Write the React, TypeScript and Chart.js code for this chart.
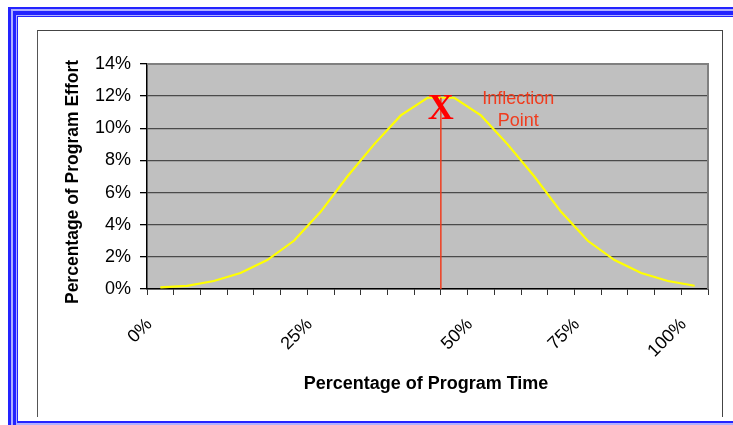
import React, { useEffect, useRef } from "react";
import { Chart, registerables } from "chart.js";

Chart.register(...registerables);

// ---- data ----
const categories = ["0%", "", "", "", "", "", "25%", "", "", "", "", "", "50%", "", "", "", "75%", "", "", "", "100%"];
const effort = [0.1, 0.2, 0.5, 1.0, 1.8, 3.0, 4.8, 7.0, 9.0, 10.8, 11.9, 11.9, 10.8, 9.0, 7.0, 4.8, 3.0, 1.8, 1.0, 0.5, 0.2];
const yTicks = [0, 2, 4, 6, 8, 10, 12, 14];
const yTitle = "Percentage of Program Effort";
const xTitle = "Percentage of Program Time";
const markerText = "X";
const noteLines = ["Inflection", "Point"];
const inflectionIndex = 10.5; // boundary between categories 10 and 11

const SANS = '"Liberation Sans", Arial, sans-serif';
const SERIF = '"Liberation Serif", "Times New Roman", serif';
const RED = "#f03c1e";

const decor = {
  id: "decor",
  beforeDraw(chart: any) {
    const { ctx, chartArea: a } = chart;
    ctx.save();
    ctx.fillStyle = "#c0c0c0";
    ctx.fillRect(a.left, a.top, a.right - a.left, a.bottom - a.top);
    ctx.restore();
  },
  beforeDatasetsDraw(chart: any) {
    const { ctx, chartArea: a } = chart;
    ctx.save();
    ctx.strokeStyle = "#808080";
    ctx.lineWidth = 2;
    ctx.beginPath();
    ctx.moveTo(a.left, a.top);
    ctx.lineTo(a.right, a.top);
    ctx.lineTo(a.right, a.bottom);
    ctx.stroke();
    ctx.restore();
  },
  afterDraw(chart: any) {
    const { ctx, chartArea: a, scales } = chart;
    const xs = scales.x;
    const ys = scales.y;
    const i0 = Math.floor(inflectionIndex);
    const p0 = xs.getPixelForValue(i0);
    const p1 = xs.getPixelForValue(i0 + 1);
    const lx = p0 + (p1 - p0) * (inflectionIndex - i0);
    const peak = Math.max(...effort);
    const py = ys.getPixelForValue(peak);

    ctx.save();
    // vertical line
    ctx.strokeStyle = RED;
    ctx.lineWidth = 1.5;
    ctx.beginPath();
    ctx.moveTo(lx, py);
    ctx.lineTo(lx, a.bottom);
    ctx.stroke();

    // X marker
    ctx.fillStyle = "#ff0000";
    ctx.font = `bold 36px ${SERIF}`;
    ctx.textAlign = "center";
    ctx.textBaseline = "alphabetic";
    ctx.fillText(markerText, lx, py + 21.5);

    // note
    ctx.fillStyle = RED;
    ctx.font = `18px ${SANS}`;
    ctx.fillText(noteLines[0], lx + 77.5, py + 6);
    ctx.fillText(noteLines[1], lx + 77.5, py + 28.4);

    // axis titles
    ctx.fillStyle = "#000";
    ctx.font = `bold 18px ${SANS}`;
    ctx.textAlign = "center";
    ctx.fillText(xTitle, (a.left + a.right) / 2 - 1.5, a.bottom + 100);

    ctx.translate(a.left - 74, (a.top + a.bottom) / 2 + 5.5);
    ctx.rotate(-Math.PI / 2);
    ctx.font = `bold 17.5px ${SANS}`;
    ctx.textBaseline = "middle";
    ctx.fillText(yTitle, 0, 0);
    ctx.restore();
  },
};

function ChartBox() {
  const ref = useRef<HTMLCanvasElement | null>(null);
  useEffect(() => {
    if (!ref.current) return;
    const font = { family: SANS, size: 18 };
    const chart = new Chart(ref.current, {
      type: "line",
      data: {
        labels: categories,
        datasets: [
          {
            data: effort,
            borderColor: "#ffff00",
            borderWidth: 2.2,
            pointRadius: 0,
            tension: 0,
            fill: false,
          },
        ],
      },
      options: {
        responsive: false,
        animation: false,
        layout: { padding: { top: 33, right: 15, left: 0, bottom: 0 } },
        plugins: { legend: { display: false }, tooltip: { enabled: false } },
        scales: {
          x: {
            type: "category",
            offset: true,
            grid: {
              offset: true,
              drawOnChartArea: false,
              drawTicks: true,
              tickLength: 6,
              tickColor: "#333",
              color: "#333",
            },
            border: { display: true, color: "#000", width: 1.5 },
            ticks: {
              autoSkip: false,
              maxRotation: 45,
              minRotation: 45,
              font,
              color: "#000",
              padding: 19,
              labelOffset: -11,
            },
            afterFit(scale: any) {
              scale.height = 127;
              scale.paddingLeft = 0;
              scale.paddingRight = 0;
            },
          },
          y: {
            min: 0,
            max: 14,
            afterBuildTicks(scale: any) {
              scale.ticks = yTicks.map((v) => ({ value: v }));
            },
            ticks: {
              callback: (v: any) => v + "%",
              font,
              color: "#000",
              padding: 9,
            },
            grid: { color: "#4a4a4a", lineWidth: 1.3, tickLength: 7, tickColor: "#000" },
            border: { display: true, color: "#000", width: 1.5 },
            afterFit(scale: any) {
              scale.width = 109;
              scale.paddingTop = 0;
              scale.paddingBottom = 0;
            },
          },
        },
      },
      plugins: [decor],
    } as any);
    return () => chart.destroy();
  }, []);
  return <canvas ref={ref} width={685} height={385} style={{ position: "absolute", left: 38, top: 31, width: 685, height: 385 }} />;
}

const BLUE = "#2424ff";
const LIGHT = "#b0b0ff";

function band(style: React.CSSProperties, color: string, key: string) {
  return <div key={key} style={{ position: "absolute", background: color, ...style }} />;
}

export default function App() {
  const W = 733;
  const H = 425;
  return (
    <div style={{ position: "fixed", left: 0, top: 0, width: W, height: H, background: "#fff", overflow: "hidden" }}>
      {/* top bands */}
      {band({ left: 8, top: 7, width: W - 8, height: 2 }, BLUE, "t1")}
      {band({ left: 11, top: 9, width: W - 11, height: 2 }, LIGHT, "t2")}
      {band({ left: 13, top: 11, width: W - 13, height: 4 }, BLUE, "t3")}
      {band({ left: 16, top: 15, width: W - 16, height: 1 }, LIGHT, "t4")}
      {band({ left: 17, top: 16, width: W - 17, height: 1.3 }, BLUE, "t5")}
      {/* left bands */}
      {band({ left: 8, top: 7, width: 3, height: H - 7 }, BLUE, "l1")}
      {band({ left: 11, top: 9, width: 2, height: H - 9 }, LIGHT, "l2")}
      {band({ left: 13, top: 11, width: 3, height: H - 11 }, BLUE, "l3")}
      {band({ left: 16, top: 15, width: 1, height: H - 15 }, LIGHT, "l4")}
      {band({ left: 17, top: 16, width: 1, height: H - 16 }, BLUE, "l5")}
      {/* bottom bands */}
      {band({ left: 17, top: 421, width: W - 17, height: 2 }, BLUE, "b1")}
      {band({ left: 17, top: 423, width: W - 17, height: 2 }, LIGHT, "b2")}
      {/* inner chart frame */}
      <div
        style={{
          position: "absolute",
          left: 37,
          top: 30,
          width: 684,
          height: 386,
          borderLeft: "1px solid #555",
          borderTop: "1px solid #444",
          borderRight: "1px solid #444",
        }}
      />
      <ChartBox />
    </div>
  );
}
